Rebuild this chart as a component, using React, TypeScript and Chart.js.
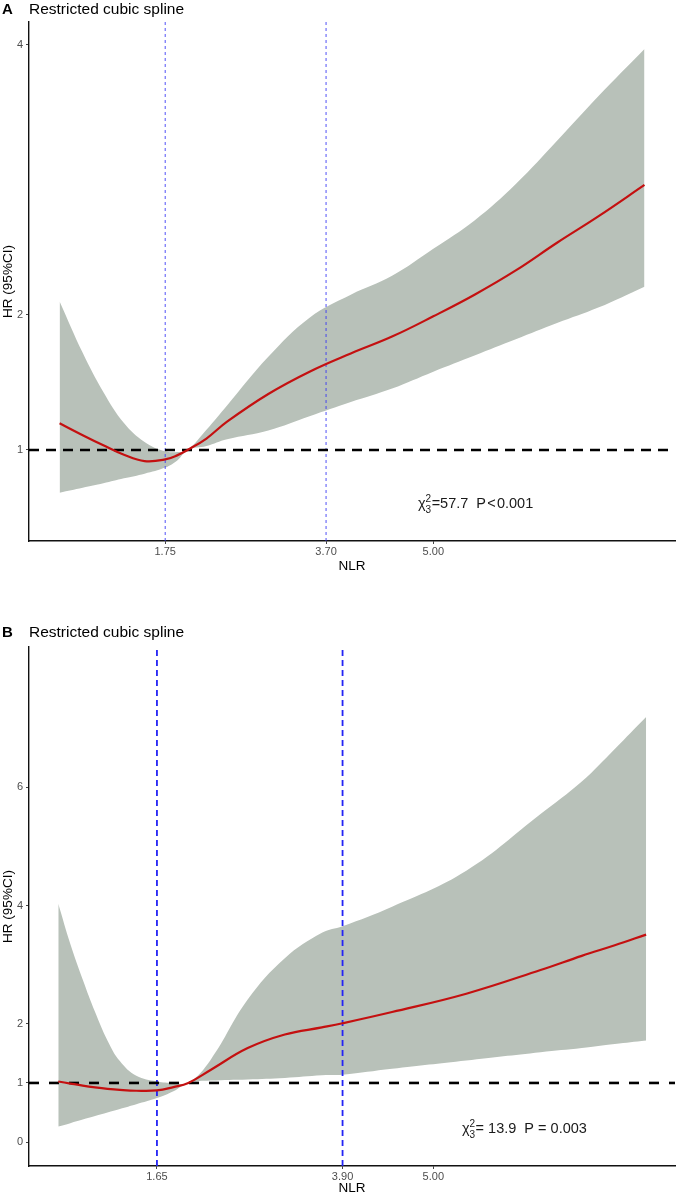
import React, { useEffect, useRef } from "react";
import { Chart, registerables } from "chart.js";
Chart.register(...registerables);

const FONT = "'Liberation Sans', Arial, Helvetica, sans-serif";

// ---------- Panel A data ----------
const NLR_A = [0.47, 0.75, 1.0, 1.25, 1.5, 1.75, 1.9, 2.02, 2.25, 2.5, 3.0, 3.5, 4.0, 4.5, 5.0, 5.5, 6.0, 6.5, 7.0, 7.56];
const HR_A = [1.198, 1.11, 1.035, 0.965, 0.918, 0.93, 0.962, 1.0, 1.085, 1.21, 1.415, 1.58, 1.715, 1.84, 1.99, 2.15, 2.33, 2.535, 2.73, 2.963];
const UPPER_A = [2.1, 1.72, 1.43, 1.2, 1.06, 0.99, 0.985, 1.0, 1.15, 1.33, 1.69, 1.98, 2.15, 2.29, 2.49, 2.7, 2.97, 3.29, 3.62, 3.97];
const LOWER_A = [0.684, 0.72, 0.753, 0.79, 0.825, 0.87, 0.925, 1.0, 1.03, 1.08, 1.145, 1.25, 1.355, 1.455, 1.58, 1.7, 1.82, 1.94, 2.055, 2.21];
const KNOTS_A = [1.75, 3.7];
const X_TICKS_A = [1.75, 3.7, 5.0];
const Y_TICKS_A = [1, 2, 4];

// ---------- Panel B data ----------
const NLR_B = [0.454, 0.6, 0.75, 0.9, 1.05, 1.2, 1.4, 1.65, 1.85, 2.03, 2.3, 2.75, 3.2, 3.65, 3.9, 4.5, 5.4, 6.3, 6.8, 7.2, 7.58];
const HR_B = [1.025, 0.99, 0.955, 0.925, 0.9, 0.882, 0.868, 0.873, 0.93, 1.0, 1.22, 1.59, 1.82, 1.94, 2.01, 2.2, 2.51, 2.91, 3.15, 3.33, 3.51];
const UPPER_B = [4.03, 3.35, 2.75, 2.2, 1.72, 1.37, 1.12, 1.025, 1.0, 1.0, 1.39, 2.41, 3.11, 3.54, 3.65, 3.98, 4.59, 5.55, 6.1, 6.65, 7.19];
const LOWER_B = [0.264, 0.32, 0.38, 0.44, 0.5, 0.56, 0.64, 0.745, 0.86, 1.0, 1.04, 1.06, 1.085, 1.13, 1.14, 1.24, 1.38, 1.52, 1.59, 1.66, 1.72];
const KNOTS_B = [1.65, 3.9];
const X_TICKS_B = [1.65, 3.9, 5.0];
const Y_TICKS_B = [0, 1, 2, 4, 6];

type Panel = {
  letter: string;
  nlr: number[];
  hr: number[];
  upper: number[];
  lower: number[];
  knots: number[];
  xTicks: number[];
  yTicks: number[];
  xMin: number;
  xMax: number;
  yMin: number;
  yMax: number;
  chi: string;
  pText: string;
  statX: number;
  statY: number;
  top: number;
  height: number;
  padTop: number;
  titleBaseline: number;
  xAxisHeight: number;
  vWidth: number;
  vDash: number[];
  vColor: string;
  hDash: number[];
};

const PANELS: Panel[] = [
  {
    letter: "A", nlr: NLR_A, hr: HR_A, upper: UPPER_A, lower: LOWER_A,
    knots: KNOTS_A, xTicks: X_TICKS_A, yTicks: Y_TICKS_A,
    xMin: 0.099, xMax: 7.93, yMin: 0.326, yMax: 4.17,
    chi: "=57.7", pText: "P\u200a<\u200a0.001", statX: 4.814, statY: 0.57,
    top: 0, height: 574, padTop: 22, titleBaseline: 14, xAxisHeight: 33,
    vWidth: 1, vDash: [3, 3], vColor: "rgba(50,50,245,0.85)", hDash: [10, 7],
  },
  {
    letter: "B", nlr: NLR_B, hr: HR_B, upper: UPPER_B, lower: LOWER_B,
    knots: KNOTS_B, xTicks: X_TICKS_B, yTicks: Y_TICKS_B,
    xMin: 0.099, xMax: 7.93, yMin: -0.405, yMax: 8.376,
    chi: "= 13.9", pText: "P = 0.003", statX: 5.347, statY: 0.157,
    top: 590, height: 606, padTop: 57, titleBaseline: 47, xAxisHeight: 30,
    vWidth: 1.8, vDash: [6, 4], vColor: "#2323f5", hDash: [10, 10],
  },
];

function makeChart(canvas: HTMLCanvasElement, p: Panel) {
  const pts = (ys: number[]) => p.nlr.map((x, i) => ({ x, y: ys[i] }));
  const decorPlugin = {
    id: "decor" + p.letter,
    afterDraw(chart: any) {
      const ctx = chart.ctx;
      ctx.save();
      ctx.fillStyle = "#000";
      ctx.textBaseline = "alphabetic";
      ctx.textAlign = "left";
      ctx.font = `bold 15px ${FONT}`;
      ctx.fillText(p.letter, 2, p.titleBaseline);
      ctx.font = `15.5px ${FONT}`;
      ctx.fillText("Restricted cubic spline", 29, p.titleBaseline);
      // statistic annotation
      const sx = chart.scales.x.getPixelForValue(p.statX);
      const sy = chart.scales.y.getPixelForValue(p.statY);
      ctx.fillStyle = "#1a1a1a";
      ctx.font = `14.5px ${FONT}`;
      ctx.fillText("\u03c7", sx, sy);
      const cw = ctx.measureText("\u03c7").width;
      ctx.font = `10px ${FONT}`;
      ctx.fillText("2", sx + cw, sy - 6);
      ctx.fillText("3", sx + cw, sy + 5);
      const sw = ctx.measureText("2").width;
      ctx.font = `14.5px ${FONT}`;
      const rest = p.chi + "  " + p.pText;
      ctx.fillText(rest, sx + cw + sw + 0.5, sy);
      ctx.restore();
    },
  };

  return new Chart(canvas, {
    type: "line",
    data: {
      datasets: [
        {
          data: pts(p.upper), borderWidth: 0, pointRadius: 0, fill: "+1",
          backgroundColor: "#b8c1b9", borderColor: "rgba(0,0,0,0)",
          tension: 0.4, order: 4,
        },
        {
          data: pts(p.lower), borderWidth: 0, pointRadius: 0, fill: false,
          borderColor: "rgba(0,0,0,0)", tension: 0.4, order: 5,
        },
        {
          data: [{ x: p.xMin, y: 1 }, { x: p.xMax, y: 1 }], borderColor: "#000",
          borderWidth: 2.6, borderDash: p.hDash, pointRadius: 0, fill: false, order: 1,
        },
        ...p.knots.map((k) => ({
          data: [{ x: k, y: p.yMin }, { x: k, y: p.yMax }], borderColor: p.vColor,
          borderWidth: p.vWidth, borderDash: p.vDash, pointRadius: 0, fill: false, order: 2,
        })),
        {
          data: pts(p.hr), borderColor: "#c41010", borderWidth: 2.2, pointRadius: 0,
          fill: false, tension: 0.4, order: 0,
        },
      ] as any,
    },
    options: {
      animation: false,
      responsive: false,
      maintainAspectRatio: false,
      events: [],
      layout: { padding: { top: p.padTop, right: 2, left: 0, bottom: 0 } },
      plugins: { legend: { display: false }, tooltip: { enabled: false }, title: { display: false } },
      scales: {
        x: {
          type: "linear",
          min: p.xMin,
          max: p.xMax,
          afterBuildTicks: (s: any) => { s.ticks = p.xTicks.map((v) => ({ value: v })); },
          afterFit: (s: any) => { s.height = p.xAxisHeight; },
          ticks: {
            autoSkip: false, maxRotation: 0, padding: 1, color: "#4d4d4d",
            font: { family: FONT, size: 11 },
            callback: (v: any) => Number(v).toFixed(2),
          },
          grid: { display: true, drawOnChartArea: false, drawTicks: true, tickLength: 3, tickColor: "#444", tickWidth: 1 },
          border: { display: true, color: "#111", width: 1.4 },
          title: { display: true, text: "NLR", color: "#000", padding: 0, font: { family: FONT, size: 13.5 } },
        },
        y: {
          type: "linear",
          min: p.yMin,
          max: p.yMax,
          afterBuildTicks: (s: any) => { s.ticks = p.yTicks.map((v) => ({ value: v })); },
          afterFit: (s: any) => { s.width = 29; },
          ticks: {
            autoSkip: false, padding: 3, color: "#4d4d4d",
            font: { family: FONT, size: 11 },
            callback: (v: any) => String(v),
          },
          grid: { display: true, drawOnChartArea: false, drawTicks: true, tickLength: 3, tickColor: "#444", tickWidth: 1 },
          border: { display: true, color: "#111", width: 1.4 },
          title: { display: true, text: "HR (95%CI)", color: "#000", padding: 0, font: { family: FONT, size: 13.5 } },
        },
      },
    } as any,
    plugins: [decorPlugin],
  });
}

function PanelChart({ p }: { p: Panel }) {
  const ref = useRef<HTMLCanvasElement | null>(null);
  useEffect(() => {
    if (!ref.current) return;
    const chart = makeChart(ref.current, p);
    return () => chart.destroy();
  }, [p]);
  return (
    <canvas
      ref={ref}
      width={677}
      height={p.height}
      style={{ position: "absolute", left: 0, top: p.top, width: 677, height: p.height, display: "block" }}
    />
  );
}

export default function App() {
  return (
    <div style={{ position: "absolute", left: 0, top: 0, width: 677, height: 1196, background: "#fff" }}>
      {PANELS.map((p) => (
        <PanelChart key={p.letter} p={p} />
      ))}
    </div>
  );
}
